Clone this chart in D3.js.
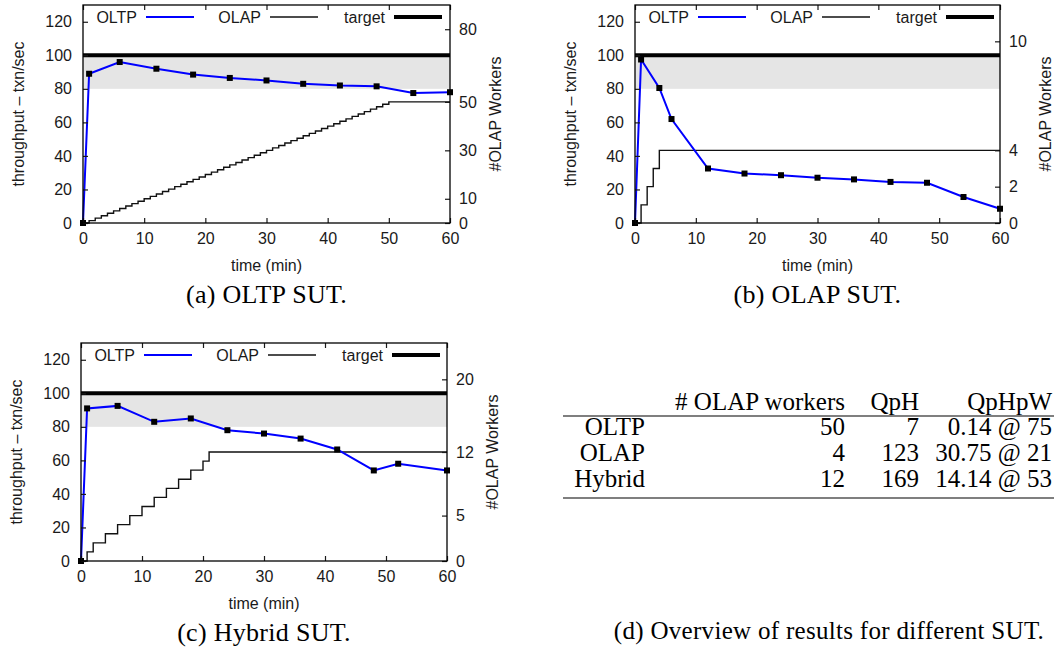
<!DOCTYPE html>
<html>
<head>
<meta charset="utf-8">
<script src="https://cdn.jsdelivr.net/npm/d3@7"></script>
<style>
  body { margin: 0; background: #fff; }
  svg { display: block; }
</style>
</head>
<body>
<div id="graph"></div>
<script>
// throughput samples (minutes / txn per sec)
const timeA = [0, 1, 6, 12, 18, 24, 30, 36, 42, 48, 54, 60];
const oltpA = [0, 89, 96, 92, 88.5, 86.5, 85, 83, 82, 81.5, 77.5, 78];
const timeB = [0, 1, 4, 6, 12, 18, 24, 30, 36, 42, 48, 54, 60];
const oltpB = [0, 97.5, 80.5, 62, 32.5, 29.5, 28.5, 27, 26, 24.5, 24, 15.5, 8.5];
const timeC = [0, 1, 6, 12, 18, 24, 30, 36, 42, 48, 52, 60];
const oltpC = [0, 91, 92.5, 83, 85, 78, 76, 73, 66.5, 54, 58, 54];

// OLAP worker steps (time the count changes / count)
const stepTimeA = [0, 1, 2, 3, 4, 5, 6, 7, 8, 9, 10, 11, 12, 13, 14, 15, 16, 17, 18, 19, 20,
  21, 22, 23, 24, 25, 26, 27, 28, 29, 30, 31, 32, 33, 34, 35, 36, 37, 38, 39, 40,
  41, 42, 43, 44, 45, 46, 47, 48, 49, 50, 60];
const workersA = [0, 1, 2, 3, 4, 5, 6, 7, 8, 9, 10, 11, 12, 13, 14, 15, 16, 17, 18, 19, 20,
  21, 22, 23, 24, 25, 26, 27, 28, 29, 30, 31, 32, 33, 34, 35, 36, 37, 38, 39, 40,
  41, 42, 43, 44, 45, 46, 47, 48, 49, 50, 50];
const stepTimeB = [0, 1, 2, 3, 4, 60];
const workersB = [0, 1, 2, 3, 4, 4];
const stepTimeC = [0, 1, 2, 4, 6, 8, 10, 12, 14, 16, 18, 20, 21, 60];
const workersC = [0, 1, 2, 3, 4, 5, 6, 7, 8, 9, 10, 11, 12, 12];

const xTicks = [0, 10, 20, 30, 40, 50, 60];
const yTicks = [0, 20, 40, 60, 80, 100, 120];
const y2TicksA = [0, 10, 30, 50, 80];
const y2TicksB = [0, 2, 4, 10];
const y2TicksC = [0, 5, 12, 20];
const targetValue = 100;
const bandRange = [80, 100];
const legendNames = ["OLTP", "OLAP", "target"];

const tableHead = ["", "# OLAP workers", "QpH", "QpHpW"];
const tableSut = ["OLTP", "OLAP", "Hybrid"];
const tableWorkers = [50, 4, 12];
const tableQph = [7, 123, 169];
const tableQphpw = ["0.14 @ 75", "30.75 @ 21", "14.14 @ 53"];

const captions = ["(a) OLTP SUT.", "(b) OLAP SUT.", "(c) Hybrid SUT.", "(d) Overview of results for different SUT."];

const sans = "'Liberation Sans', Arial, sans-serif";
const serif = "'Liberation Serif', 'Times New Roman', serif";
const fs = 16;

const svg = d3.select("#graph").append("svg")
    .attr("width", 1054)
    .attr("height", 650);

function panel(p) {
  const x = d3.scaleLinear().domain([0, 60]).range([p.left, p.right]);
  const y = d3.scaleLinear().domain([0, 130]).range([p.bottom, p.top]);
  const y2 = d3.scaleLinear().domain([0, p.y2max]).range([p.bottom, p.top]);
  const g = svg.append("g");

  g.append("rect")
      .attr("x", x(0)).attr("width", x(60) - x(0))
      .attr("y", y(bandRange[1])).attr("height", y(bandRange[0]) - y(bandRange[1]))
      .attr("fill", "#e5e5e5");

  g.append("line")
      .attr("x1", x(0)).attr("x2", x(60))
      .attr("y1", y(targetValue)).attr("y2", y(targetValue))
      .attr("stroke", "#000").attr("stroke-width", 4);

  const step = d3.line().curve(d3.curveStepAfter)
      .x(d => x(d[0])).y(d => y2(d[1]));
  g.append("path")
      .attr("d", step(d3.zip(p.stepTime, p.workers)))
      .attr("fill", "none").attr("stroke", "#111").attr("stroke-width", 1.4);

  const line = d3.line().x(d => x(d[0])).y(d => y(d[1]));
  const pts = d3.zip(p.time, p.oltp);
  g.append("path")
      .attr("d", line(pts))
      .attr("fill", "none").attr("stroke", "#0000ff").attr("stroke-width", 2);
  g.selectAll("rect.pt")
    .data(pts)
    .join("rect")
      .attr("class", "pt")
      .attr("x", d => x(d[0]) - 3).attr("y", d => y(d[1]) - 3)
      .attr("width", 6).attr("height", 6)
      .attr("fill", "#000");

  // axes, ticks pointing inward like gnuplot
  const styleAxis = a => {
    a.select(".domain").remove();
    a.attr("font-family", sans).attr("font-size", fs).attr("color", "#1a1a1a");
    a.selectAll("line").attr("stroke-width", 1.2);
  };
  g.append("g").attr("transform", `translate(0,${p.bottom})`)
      .call(d3.axisBottom(x).tickValues(xTicks).tickSize(-5).tickPadding(10))
      .call(styleAxis);
  g.append("g").attr("transform", `translate(0,${p.top})`)
      .call(d3.axisTop(x).tickValues(xTicks).tickSize(-5).tickFormat(""))
      .call(styleAxis);
  g.append("g").attr("transform", `translate(${p.left},0)`)
      .call(d3.axisLeft(y).tickValues(yTicks).tickSize(-5).tickPadding(11))
      .call(styleAxis);
  g.append("g").attr("transform", `translate(${p.right},0)`)
      .call(d3.axisRight(y2).tickValues(p.y2ticks).tickSize(-5).tickPadding(9))
      .call(styleAxis);

  g.append("rect")
      .attr("x", p.left).attr("y", p.top)
      .attr("width", p.right - p.left).attr("height", p.bottom - p.top)
      .attr("fill", "none").attr("stroke", "#000").attr("stroke-width", 1.3);

  // legend
  const lg = g.append("g").attr("font-family", sans).attr("font-size", fs).attr("fill", "#1a1a1a");
  const sw = [[2, "#0000ff"], [1.4, "#111"], [4, "#000"]];
  legendNames.forEach((n, i) => {
    const tx = p.left + 54 + i * 124;
    const ly = p.top + 12;
    lg.append("text").attr("x", tx).attr("y", ly + 6).attr("text-anchor", "end").text(n);
    lg.append("line")
        .attr("x1", tx + 9).attr("x2", tx + 57)
        .attr("y1", ly).attr("y2", ly)
        .attr("stroke", sw[i][1]).attr("stroke-width", sw[i][0]);
  });

  const mid = (p.top + p.bottom) / 2;
  g.append("text")
      .attr("transform", `translate(${p.left - 59},${mid}) rotate(-90)`)
      .attr("text-anchor", "middle")
      .attr("font-family", sans).attr("font-size", fs).attr("fill", "#1a1a1a")
      .text("throughput – txn/sec");
  g.append("text")
      .attr("transform", `translate(${p.right + 51},${mid}) rotate(-90)`)
      .attr("text-anchor", "middle")
      .attr("font-family", sans).attr("font-size", fs).attr("fill", "#1a1a1a")
      .text("#OLAP Workers");
  g.append("text")
      .attr("x", (p.left + p.right) / 2).attr("y", p.bottom + 48)
      .attr("text-anchor", "middle")
      .attr("font-family", sans).attr("font-size", fs).attr("fill", "#1a1a1a")
      .text("time (min)");
  g.append("text")
      .attr("x", (p.left + p.right) / 2).attr("y", p.bottom + 80)
      .attr("text-anchor", "middle")
      .attr("font-family", serif).attr("font-size", 26).attr("letter-spacing", 0.3).attr("fill", "#000")
      .text(p.caption);
}

panel({left: 83, right: 450, top: 5, bottom: 223, y2max: 90, y2ticks: y2TicksA,
  time: timeA, oltp: oltpA, stepTime: stepTimeA, workers: workersA, caption: captions[0]});
panel({left: 635, right: 1000, top: 5, bottom: 223, y2max: 12, y2ticks: y2TicksB,
  time: timeB, oltp: oltpB, stepTime: stepTimeB, workers: workersB, caption: captions[1]});
panel({left: 81, right: 447, top: 343, bottom: 561, y2max: 24, y2ticks: y2TicksC,
  time: timeC, oltp: oltpC, stepTime: stepTimeC, workers: workersC, caption: captions[2]});

// (d) table
const tbl = svg.append("g").attr("font-family", serif).attr("font-size", 25).attr("fill", "#000");
const colRight = [645, 845, 919, 1052];
const rowY = d3.scalePoint().domain(tableSut).range([435, 487]);
tableHead.forEach((h, i) => {
  tbl.append("text").attr("x", colRight[i]).attr("y", 410).attr("text-anchor", "end").text(h);
});
tableSut.forEach((s, r) => {
  const cells = [s, tableWorkers[r], tableQph[r], tableQphpw[r]];
  cells.forEach((c, i) => {
    tbl.append("text").attr("x", colRight[i]).attr("y", rowY(s)).attr("text-anchor", "end").text(c);
  });
});
[416, 498].forEach(yy => {
  tbl.append("line").attr("x1", 563).attr("x2", 1054).attr("y1", yy).attr("y2", yy)
      .attr("stroke", "#000").attr("stroke-width", 1.2);
});
tbl.append("text")
    .attr("x", 829).attr("y", 639)
    .attr("text-anchor", "middle")
    .attr("letter-spacing", 0.3)
    .text(captions[3]);
</script>
</body>
</html>
